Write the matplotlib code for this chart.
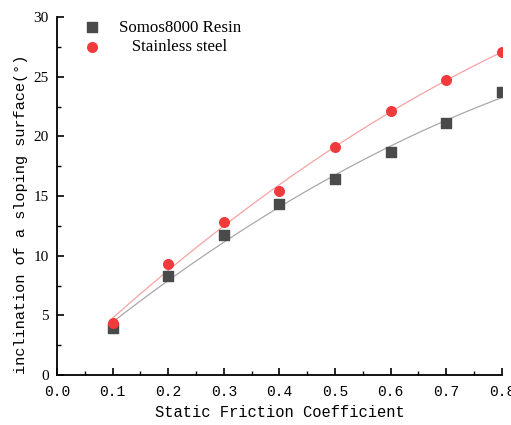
import numpy as np
import matplotlib
matplotlib.use("Agg")
import matplotlib.pyplot as plt
from matplotlib.ticker import MultipleLocator

mu = [0.1, 0.2, 0.3, 0.4, 0.5, 0.6, 0.7, 0.8]
resin = [3.9, 8.3, 11.7, 14.3, 16.4, 18.7, 21.1, 23.7]
steel = [4.4, 9.3, 12.8, 15.4, 19.1, 22.1, 24.7, 27.1]
xticks = [0.0, 0.1, 0.2, 0.3, 0.4, 0.5, 0.6, 0.7, 0.8]
yticks = [0, 5, 10, 15, 20, 25, 30]

fig = plt.figure(figsize=(5.11, 4.25), dpi=100)
ax = fig.add_axes([0.1115, 0.1176, 0.8705, 0.8424])

xs = np.linspace(min(mu), max(mu), 200)
for ys, lc in [(resin, "#a8a8a8"), (steel, "#f5a3a3")]:
    p = np.polyfit(mu, ys, 2)
    ax.plot(xs, np.polyval(p, xs), color=lc, lw=0.9, zorder=2)

ax.scatter(mu, resin, marker="s", s=42, color="#4a4a4a", label="Somos8000 Resin", zorder=3)
ax.scatter(mu, steel, marker="o", s=48, color="#f23a3c", label="   Stainless steel", zorder=3)

ax.set_xlim(0, 0.8)
ax.set_ylim(0, 30)
ax.set_xticks(xticks)
ax.set_xticklabels([f"{v:.1f}" for v in xticks], family="Liberation Mono", fontsize=10.5)
ax.set_yticks(yticks)
ax.set_yticklabels([str(v) for v in yticks], family="Liberation Serif", fontsize=11)
ax.xaxis.set_minor_locator(MultipleLocator(0.05))
ax.yaxis.set_minor_locator(MultipleLocator(2.5))
ax.tick_params(which="major", direction="in", length=5, width=1.2)
ax.tick_params(which="minor", direction="in", length=3, width=1.0)
ax.tick_params(axis="x", which="major", pad=7)
ax.tick_params(axis="y", which="major", pad=6)
for s in ["top", "right"]:
    ax.spines[s].set_visible(False)
for s in ["left", "bottom"]:
    ax.spines[s].set_linewidth(1.3)

ax.set_xlabel("Static Friction Coefficient", family="Liberation Mono", fontsize=11.2)
ax.xaxis.set_label_coords(0.5, -0.083)
ax.set_ylabel("inclination of a sloping surface(°)", family="Liberation Mono", fontsize=11)
ax.yaxis.set_label_coords(-0.066, 0.45)

leg = ax.legend(loc="upper left", bbox_to_anchor=(0.007, 1.035), frameon=False,
                prop={"family": "Liberation Serif", "size": 12.2}, handletextpad=0.6,
                labelspacing=0.2, scatterpoints=1)

fig.savefig("out.png", dpi=100)
